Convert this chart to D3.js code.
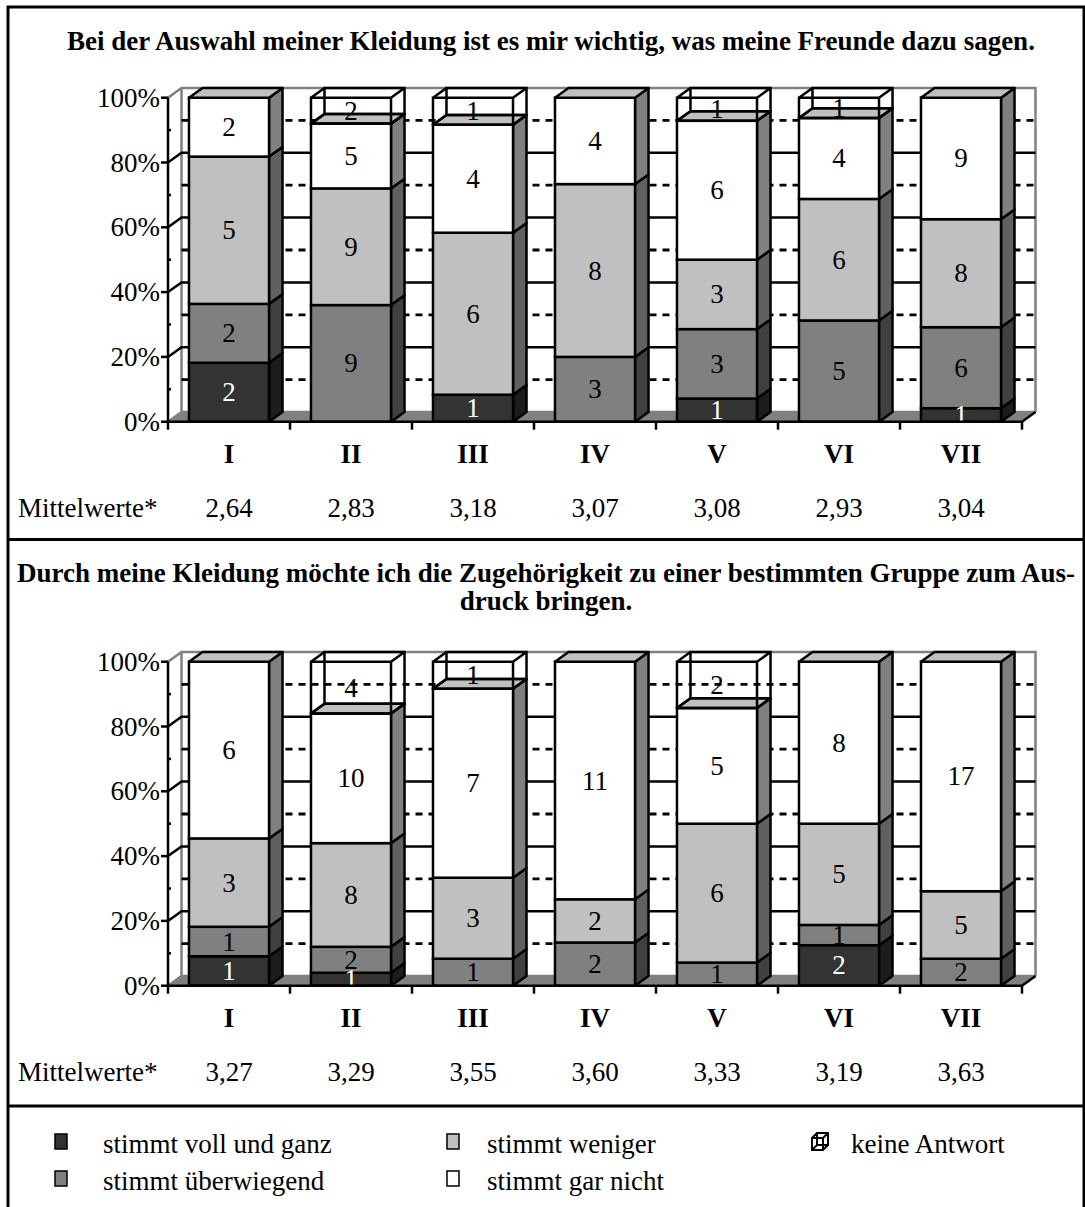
<!DOCTYPE html>
<html>
<head>
<meta charset="utf-8">
<script src="https://cdn.jsdelivr.net/npm/d3@7"></script>
<style>
  html, body { margin: 0; padding: 0; background: #fff; }
  svg { display: block; }
  text { font-family: "Liberation Serif", "Times New Roman", serif; }
</style>
</head>
<body>
<svg id="chart" width="1085" height="1207"></svg>
<script>
// Categories (school classes / groups)
const categories = ["I", "II", "III", "IV", "V", "VI", "VII"];

// Answer categories, bottom to top of each stacked bar
const keys = ["voll", "ueber", "weniger", "garnicht", "keine"];
const keyLabels = {
  voll: "stimmt voll und ganz",
  ueber: "stimmt überwiegend",
  weniger: "stimmt weniger",
  garnicht: "stimmt gar nicht",
  keine: "keine Antwort"
};

// Statement 1: counts per answer
const voll1     = [2, 0, 1, 0, 1, 0, 1];
const ueber1    = [2, 9, 0, 3, 3, 5, 6];
const weniger1  = [5, 9, 6, 8, 3, 6, 8];
const garnicht1 = [2, 5, 4, 4, 6, 4, 9];
const keine1    = [0, 2, 1, 0, 1, 1, 0];
const means1    = ["2,64", "2,83", "3,18", "3,07", "3,08", "2,93", "3,04"];

// Statement 2: counts per answer
const voll2     = [1, 1, 0, 0, 0, 2, 0];
const ueber2    = [1, 2, 1, 2, 1, 1, 2];
const weniger2  = [3, 8, 3, 2, 6, 5, 5];
const garnicht2 = [6, 10, 7, 11, 5, 8, 17];
const keine2    = [0, 4, 1, 0, 2, 0, 0];
const means2    = ["3,27", "3,29", "3,55", "3,60", "3,33", "3,19", "3,63"];

// Axis tick values
const majorTicks = [0, 0.2, 0.4, 0.6, 0.8, 1];
const minorTicks = [0.1, 0.3, 0.5, 0.7, 0.9];

const title1 = ["Bei der Auswahl meiner Kleidung ist es mir wichtig, was meine Freunde dazu sagen."];
const title2 = ["Durch meine Kleidung möchte ich die Zugehörigkeit zu einer bestimmten Gruppe zum Aus-",
                "druck bringen."];

// Face colours: front, side
const front = { voll: "#333333", ueber: "#808080", weniger: "#c0c0c0", garnicht: "#ffffff" };
const side  = { voll: "#1c1c1c", ueber: "#404040", weniger: "#606060", garnicht: "#808080" };
const topFace = "#c0c0c0";
const wallGrey = "#808080";

const svg = d3.select("#chart");
const DX = 13.5, DY = -9.7;      // depth offset of the 3D bars
const X0 = 168, X1 = 1022;       // front x-axis extent
const FS = 27;

function buildRows(v, u, w, g, k) {
  return categories.map((c, i) => ({ cat: c, voll: v[i], ueber: u[i], weniger: w[i], garnicht: g[i], keine: k[i] }));
}

function drawPanel(cfg) {
  const g = svg.append("g");
  const x = d3.scaleBand().domain(categories).range([X0, X1]).paddingInner(0.344).paddingOuter(0.172);
  const y = d3.scaleLinear().domain([0, 1]).range([cfg.y0, cfg.y1]);
  const bw = x.bandwidth();
  const step = x.step();

  // title
  cfg.title.forEach((t, i) => {
    g.append("text").attr("x", cfg.titleX).attr("y", cfg.titleY + i * 28)
      .attr("text-anchor", "middle").attr("font-weight", "bold").attr("font-size", FS)
      .text(t);
  });

  // back wall and floor
  g.append("rect").attr("x", X0 + DX).attr("y", y(1) + DY)
    .attr("width", X1 - X0).attr("height", y(0) - y(1)).attr("fill", "#fff");
  g.append("path")
    .attr("d", `M${X0},${y(0)} L${X1},${y(0)} L${X1 + DX},${y(0) + DY} L${X0 + DX},${y(0) + DY} Z`)
    .attr("fill", wallGrey);
  g.append("path")
    .attr("d", `M${X0},${y(1)} L${X0 + DX},${y(1) + DY} L${X1 + DX},${y(1) + DY} L${X1 + DX},${y(0) + DY}
                M${X0 + DX},${y(1) + DY} L${X0 + DX},${y(0) + DY}
                M${X0},${y(0)} L${X0 + DX},${y(0) + DY} L${X1 + DX},${y(0) + DY}`)
    .attr("fill", "none").attr("stroke", wallGrey).attr("stroke-width", 2.5);

  // grid lines on the walls
  majorTicks.filter(t => t > 0 && t < 1).forEach(t => {
    g.append("path")
      .attr("d", `M${X0},${y(t)} L${X0 + DX},${y(t) + DY} L${X1 + DX},${y(t) + DY}`)
      .attr("fill", "none").attr("stroke", "#000").attr("stroke-width", 2.5);
  });
  minorTicks.forEach(t => {
    g.append("line")
      .attr("x1", X0 + DX).attr("x2", X1 + DX).attr("y1", y(t) + DY).attr("y2", y(t) + DY)
      .attr("stroke", "#000").attr("stroke-width", 2.8).attr("stroke-dasharray", "7,6");
  });

  // stacked bars (100 %)
  const rows = cfg.rows;
  const series = d3.stack().keys(keys).offset(d3.stackOffsetExpand)(rows);
  const solidKeys = keys.slice(0, 4);

  rows.forEach((r, i) => {
    const xb = x(r.cat);
    const bar = g.append("g");
    let topVal = 0;
    solidKeys.forEach(k => {
      const s = series[keys.indexOf(k)][i];
      if (s[1] - s[0] <= 0) return;
      const yt = y(s[1]), yb = y(s[0]);
      bar.append("path")
        .attr("d", `M${xb + bw},${yt} L${xb + bw + DX},${yt + DY} L${xb + bw + DX},${yb + DY} L${xb + bw},${yb} Z`)
        .attr("fill", side[k]).attr("stroke", "#000").attr("stroke-width", 2.5).attr("stroke-linejoin", "round");
      bar.append("rect")
        .attr("x", xb).attr("y", yt).attr("width", bw).attr("height", yb - yt)
        .attr("fill", front[k]).attr("stroke", "#000").attr("stroke-width", 2.5);
      topVal = s[1];
    });
    // top face of the solid stack
    const yt = y(topVal);
    bar.append("path")
      .attr("d", `M${xb},${yt} L${xb + DX},${yt + DY} L${xb + bw + DX},${yt + DY} L${xb + bw},${yt} Z`)
      .attr("fill", topFace).attr("stroke", "#000").attr("stroke-width", 2.5).attr("stroke-linejoin", "round");

    // "keine Antwort" as a transparent wireframe box
    const sk = series[keys.indexOf("keine")][i];
    if (sk[1] - sk[0] > 0) {
      const a = y(sk[1]), b = y(sk[0]);
      const xl = xb, xr = xb + bw;
      bar.append("path")
        .attr("d", `M${xl},${a} L${xr},${a} L${xr},${b} L${xl},${b} Z
                    M${xl + DX},${a + DY} L${xr + DX},${a + DY} L${xr + DX},${b + DY} L${xl + DX},${b + DY} Z
                    M${xl},${a} L${xl + DX},${a + DY} M${xr},${a} L${xr + DX},${a + DY}
                    M${xr},${b} L${xr + DX},${b + DY} M${xl},${b} L${xl + DX},${b + DY}`)
        .attr("fill", "none").attr("stroke", "#000").attr("stroke-width", 2.5);
    }
  });

  // value labels
  rows.forEach((r, i) => {
    const cx = x(r.cat) + bw / 2;
    keys.forEach((k, ki) => {
      if (!(r[k] > 0)) return;
      const s = series[ki][i];
      g.append("text")
        .attr("x", cx).attr("y", y((s[0] + s[1]) / 2) + 9)
        .attr("text-anchor", "middle").attr("font-size", FS)
        .attr("fill", k === "voll" ? "#fff" : "#000")
        .text(r[k]);
    });
  });

  // front y-axis
  g.append("line").attr("x1", X0).attr("x2", X0).attr("y1", y(0)).attr("y2", y(1))
    .attr("stroke", "#000").attr("stroke-width", 2.5);
  majorTicks.forEach(t => {
    g.append("line").attr("x1", X0 - 7).attr("x2", X0).attr("y1", y(t)).attr("y2", y(t))
      .attr("stroke", "#000").attr("stroke-width", 2.5);
    g.append("text").attr("x", 160).attr("y", y(t) + 9)
      .attr("text-anchor", "end").attr("font-size", FS)
      .text(d3.format(".0%")(t));
  });
  minorTicks.forEach(t => {
    g.append("line").attr("x1", X0).attr("x2", X0 + 3).attr("y1", y(t)).attr("y2", y(t))
      .attr("stroke", "#000").attr("stroke-width", 2.5);
  });

  // front x-axis
  g.append("path")
    .attr("d", `M${X0},${y(0)} L${X1},${y(0)} L${X1 + DX},${y(0) + DY}`)
    .attr("fill", "none").attr("stroke", "#000").attr("stroke-width", 2.5);
  d3.range(categories.length + 1).forEach(j => {
    const tx = X0 + j * step;
    g.append("line").attr("x1", tx).attr("x2", tx).attr("y1", y(0)).attr("y2", y(0) + 8)
      .attr("stroke", "#000").attr("stroke-width", 2.5);
  });
  categories.forEach(c => {
    g.append("text").attr("x", x(c) + bw / 2).attr("y", y(0) + 41.5)
      .attr("text-anchor", "middle").attr("font-weight", "bold").attr("font-size", FS)
      .text(c);
  });

  // mean values
  g.append("text").attr("x", 18).attr("y", y(0) + 95).attr("font-size", FS).text("Mittelwerte*");
  categories.forEach((c, i) => {
    g.append("text").attr("x", x(c) + bw / 2).attr("y", y(0) + 95)
      .attr("text-anchor", "middle").attr("font-size", FS)
      .text(cfg.means[i]);
  });
}

drawPanel({
  y0: 421.7, y1: 97.7, titleX: 551, titleY: 50, title: title1, means: means1,
  rows: buildRows(voll1, ueber1, weniger1, garnicht1, keine1)
});
drawPanel({
  y0: 985.7, y1: 661.7, titleX: 546, titleY: 582, title: title2, means: means2,
  rows: buildRows(voll2, ueber2, weniger2, garnicht2, keine2)
});

// frame and separators
const frame = svg.append("g").attr("stroke", "#000").attr("stroke-width", 3).attr("fill", "none");
frame.append("path").attr("d", "M8,1207 L8,7 L1084,7 L1084,1207");
frame.append("line").attr("x1", 8).attr("x2", 1084).attr("y1", 539.5).attr("y2", 539.5);
frame.append("line").attr("x1", 8).attr("x2", 1084).attr("y1", 1106).attr("y2", 1106);

// legend
const legendItems = [
  { k: "voll", x: 55, y: 1134, tx: 103, ty: 1153 },
  { k: "ueber", x: 55, y: 1171, tx: 103, ty: 1190 },
  { k: "weniger", x: 447, y: 1134, tx: 487, ty: 1153 },
  { k: "garnicht", x: 447, y: 1171, tx: 487, ty: 1190 },
  { k: "keine", x: 812, y: 1134, tx: 851, ty: 1153 }
];
const lg = svg.append("g");
legendItems.forEach(d => {
  if (d.k === "keine") {
    const a = d.x, b = d.y + 4, w = 11, h = 12, ox = 5, oy = -5;
    lg.append("path")
      .attr("d", `M${a},${b} h${w} v${h} h${-w} Z M${a + ox},${b + oy} h${w} v${h} h${-w} Z
                  M${a},${b} l${ox},${oy} M${a + w},${b} l${ox},${oy} M${a + w},${b + h} l${ox},${oy} M${a},${b + h} l${ox},${oy}`)
      .attr("fill", "none").attr("stroke", "#000").attr("stroke-width", 2);
  } else {
    lg.append("rect").attr("x", d.x).attr("y", d.y).attr("width", 12).attr("height", 15)
      .attr("fill", front[d.k]).attr("stroke", "#000").attr("stroke-width", 1.5);
  }
  lg.append("text").attr("x", d.tx).attr("y", d.ty).attr("font-size", FS).text(keyLabels[d.k]);
});
</script>
</body>
</html>
